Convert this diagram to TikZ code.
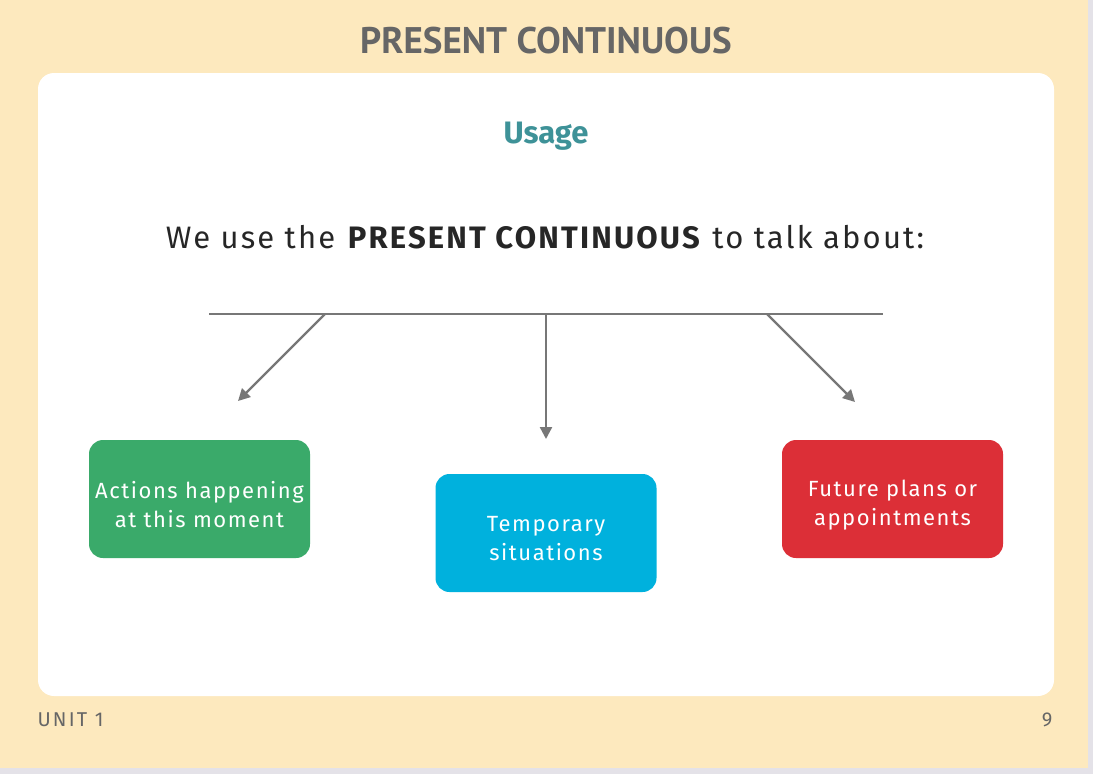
\documentclass[tikz,border=0pt]{standalone}
\usepackage{fontspec}
\setmainfont{Fira Sans}
\newfontfamily\titlefont{PT Sans}
\newfontfamily\spacedfont[LetterSpace=7]{Fira Sans}
\newfontfamily\footfont[LetterSpace=11]{Fira Sans}
\usetikzlibrary{arrows.meta}
\definecolor{bgbeige}{HTML}{FDE9BE}
\definecolor{edgegray}{HTML}{E4E2E8}
\definecolor{titlegray}{HTML}{666666}
\definecolor{teal}{HTML}{3E9298}
\definecolor{linegray}{HTML}{777777}
\definecolor{boxgreen}{HTML}{3AAA6A}
\definecolor{boxblue}{HTML}{00B1DD}
\definecolor{boxred}{HTML}{DC2F37}
\tikzset{
  usebox/.style={rounded corners=14pt, minimum width=221pt, minimum height=118pt, inner sep=0pt},
  boxtext/.style={text=white, align=center, font=\spacedfont\fontsize{22}{29}\selectfont, inner sep=0pt, yshift=-6pt},
  conn/.style={draw=linegray, line width=2.4pt},
  arr/.style={conn, -{Triangle[length=12pt,width=12pt]}}
}
\begin{document}
\begin{tikzpicture}[x=1pt,y=-1pt]
\fill[edgegray] (0,0) rectangle (1093,774);
\fill[bgbeige] (0,0) rectangle (1088,768);
\useasboundingbox (0,0) rectangle (1093,774);
\fill[white, rounded corners=16pt] (38,73) rectangle (1054,696);
\node[font=\titlefont\bfseries\fontsize{37}{40}\selectfont, text=titlegray] (title) at (546,41) {PRESENT CONTINUOUS};
\node[font=\bfseries\fontsize{31}{34}\selectfont, text=teal] (usage) at (546,136) {Usage};
\node[font=\spacedfont\fontsize{31}{34}\selectfont, text=black!85] (intro) at (545,237) {We use the \textbf{PRESENT CONTINUOUS} to talk about:};
\coordinate (l1) at (209,314);
\coordinate (l2) at (883,314);
\draw[conn] (l1) -- (l2);
\coordinate (s1) at (325,314);
\coordinate (s2) at (546,314);
\coordinate (s3) at (767,314);
\coordinate (e1) at (238,401);
\coordinate (e2) at (546,439);
\coordinate (e3) at (855,402);
\draw[arr] (s1) -- (e1);
\draw[arr] (s2) -- (e2);
\draw[arr] (s3) -- (e3);
\node[usebox, fill=boxgreen] (green) at (199.5,499) {};
\node[boxtext] (greentext) at (green.center) {Actions happening\\at this moment};
\node[usebox, fill=boxblue] (blue) at (546,533) {};
\node[boxtext] (bluetext) at (blue.center) {Temporary\\situations};
\node[usebox, fill=boxred] (red) at (892.5,499) {};
\node[boxtext] (redtext) at (red.center) {Future plans or\\appointments};
\node[anchor=west, font=\footfont\fontsize{20}{22}\selectfont, text=titlegray] (unit) at (34,720) {UNIT 1};
\node[anchor=east, font=\footfont\fontsize{20}{22}\selectfont, text=titlegray] (page) at (1056,720) {9};
\end{tikzpicture}
\end{document}
